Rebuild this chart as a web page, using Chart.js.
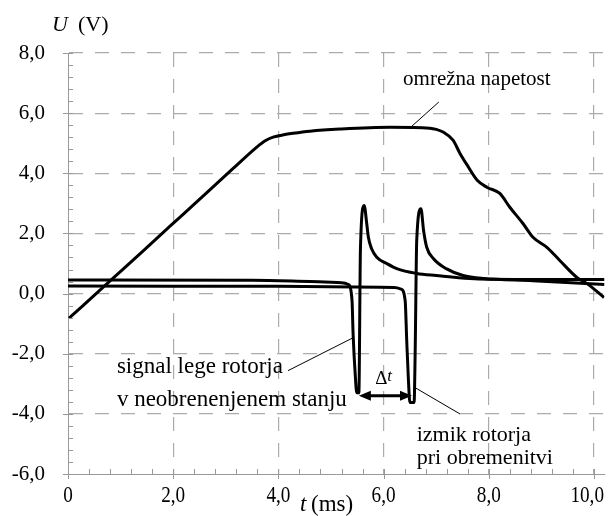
<!DOCTYPE html>
<html>
<head>
<meta charset="utf-8">
<script src="https://cdn.jsdelivr.net/npm/chart.js@4.4.1/dist/chart.umd.min.js"></script>
<style>
  html, body { margin: 0; padding: 0; background: #fff; }
  #wrap { width: 608px; height: 516px; }
</style>
</head>
<body>
<div id="wrap"><canvas id="chart" width="608" height="516"></canvas></div>
<script>
// mains voltage (omrežna napetost)
const mainsT = [0.02, 0.8, 1.43, 1.94, 2.38, 2.64, 3.14, 3.59, 3.75, 3.9, 4.1, 4.28, 4.6, 5.17, 6.12, 6.88, 7.0, 7.13, 7.32, 7.45, 7.59, 7.78, 7.97, 8.21, 8.4, 8.65, 8.84, 9.11, 9.35, 9.68, 9.87, 10.19];
const mainsU = [-0.82, 0.42, 1.42, 2.24, 2.94, 3.36, 4.16, 4.87, 5.08, 5.2, 5.28, 5.33, 5.4, 5.47, 5.53, 5.5, 5.46, 5.37, 5.1, 4.67, 4.27, 3.77, 3.53, 3.33, 2.87, 2.33, 1.87, 1.53, 1.1, 0.53, 0.33, -0.13];

// rotor position signal, no load
const rotorT = [0, 3.5, 4.6, 5.2, 5.33, 5.4, 5.42, 5.46, 5.49, 5.53, 5.56, 5.63, 5.68, 5.71, 5.77, 5.87, 6.06, 6.25, 6.63, 7.0, 7.64, 8.5, 10.2];
const rotorU = [0.45, 0.44, 0.4, 0.36, 0.3, -0.23, -1.33, -2.67, -3.3, -3.3, 1.5, 2.93, 2.32, 1.88, 1.5, 1.21, 1.0, 0.83, 0.67, 0.6, 0.5, 0.47, 0.47];

// rotor shift under load
const loadT = [0, 4, 6.2, 6.33, 6.41, 6.44, 6.47, 6.5, 6.58, 6.6, 6.63, 6.71, 6.76, 6.82, 6.95, 7.2, 7.51, 7.9, 8.84, 10.2];
const loadU = [0.25, 0.24, 0.2, 0.15, -0.23, -1.57, -2.79, -3.62, -3.62, -2.0, 1.77, 2.82, 2.1, 1.54, 1.16, 0.82, 0.6, 0.5, 0.43, 0.3];

const xTicks = [0, 2, 4, 6, 8, 10];
const xLabels = ['0', '2,0', '4,0', '6,0', '8,0', '10,0'];
const yTicks = [-6, -4, -2, 0, 2, 4, 6, 8];

const toPts = (xs, ys) => xs.map((x, i) => ({ x: x, y: ys[i] }));
const serif = '"Liberation Serif", "Times New Roman", serif';

// extra drawing: minor ticks, x labels, axis titles, labels with leader lines, Δt arrow
const decor = {
  id: 'decor',
  afterDraw(chart) {
    const ctx = chart.ctx;
    const xs = chart.scales.x, ys = chart.scales.y;
    const a = chart.chartArea;
    const X = v => xs.getPixelForValue(v);
    const Y = v => ys.getPixelForValue(v);

    ctx.save();
    // ticks
    ctx.strokeStyle = '#999';
    ctx.lineWidth = 1;
    ctx.beginPath();
    for (let v = -6; v <= 8.001; v += 0.4) {
      const p = Math.round(Y(v)) + 0.5;
      const major = Math.abs(v / 2 - Math.round(v / 2)) < 0.01;
      ctx.moveTo(a.left - (major ? 5 : 0), p);
      ctx.lineTo(a.left + 5, p);
    }
    for (let v = 0; v <= 10.001; v += 0.4) {
      const p = Math.round(X(v)) + 0.5;
      const major = Math.abs(v / 2 - Math.round(v / 2)) < 0.01;
      ctx.moveTo(p, a.bottom + (major ? 5 : 0));
      ctx.lineTo(p, a.bottom - 5);
    }
    ctx.stroke();

    ctx.fillStyle = '#000';
    ctx.textBaseline = 'alphabetic';
    ctx.textAlign = 'left';

    // x tick labels, slightly condensed like the original
    ctx.font = '24px ' + serif;
    xTicks.forEach((v, i) => {
      const w = ctx.measureText(xLabels[i]).width * 0.8;
      let cx = X(v);
      if (cx + w / 2 > 604) cx = 604 - w / 2;
      ctx.save();
      ctx.translate(cx - w / 2, a.bottom + 28);
      ctx.scale(0.8, 1);
      ctx.fillText(xLabels[i], 0, 0);
      ctx.restore();
    });

    // axis titles
    ctx.font = 'italic 22px ' + serif;
    ctx.fillText('U', a.left - 16, 31);
    ctx.font = '22px ' + serif;
    ctx.fillText('(V)', a.left + 10, 31);
    ctx.font = 'italic 23px ' + serif;
    ctx.fillText('t', 300, 511);
    ctx.font = '23px ' + serif;
    ctx.fillText('(ms)', 311, 511);

    // labels
    ctx.font = '21px ' + serif;
    ctx.fillText('omrežna napetost', X(6.37), Y(6.93));
    ctx.font = '23px ' + serif;
    const sigX = X(0.93), sigY = Y(-2.63);
    ctx.fillText('signal lege rotorja', sigX, sigY);
    const sigEnd = sigX + ctx.measureText('signal lege rotorja').width;
    ctx.fillText('v neobrenenjenem stanju', X(0.93), Y(-3.73));
    ctx.font = '22px ' + serif;
    ctx.fillText('izmik rotorja', X(6.63), Y(-4.9));
    ctx.fillText('pri obremenitvi', X(6.63), Y(-5.67));

    // leader lines
    ctx.strokeStyle = '#000';
    ctx.lineWidth = 1;
    ctx.beginPath();
    ctx.moveTo(X(7.05), Y(6.37)); ctx.lineTo(X(6.54), Y(5.57));
    ctx.moveTo(sigEnd + 5, sigY - 2); ctx.lineTo(X(5.42), Y(-1.47));
    ctx.moveTo(X(6.6), Y(-3.13)); ctx.lineTo(X(7.45), Y(-4.0));
    ctx.stroke();

    // Δt arrow
    const x1 = X(5.53), x2 = X(6.54), ya = Y(-3.4);
    ctx.lineWidth = 3;
    ctx.beginPath();
    ctx.moveTo(x1 + 8, ya); ctx.lineTo(x2 - 8, ya);
    ctx.stroke();
    ctx.beginPath();
    ctx.moveTo(x1, ya); ctx.lineTo(x1 + 12, ya - 5); ctx.lineTo(x1 + 12, ya + 5); ctx.closePath();
    ctx.moveTo(x2, ya); ctx.lineTo(x2 - 12, ya - 5); ctx.lineTo(x2 - 12, ya + 5); ctx.closePath();
    ctx.fill();
    ctx.font = '19px ' + serif;
    ctx.fillText('\u0394', X(5.84), Y(-3.0));
    ctx.font = 'italic 17px ' + serif;
    ctx.fillText('t', X(6.07), Y(-2.9));
    ctx.restore();
  }
};

const lineStyle = { borderColor: '#000', borderWidth: 3, pointRadius: 0, showLine: true, cubicInterpolationMode: 'monotone', fill: false };

new Chart(document.getElementById('chart'), {
  type: 'scatter',
  data: {
    datasets: [
      Object.assign({ label: 'omrežna napetost', data: toPts(mainsT, mainsU) }, lineStyle),
      Object.assign({ label: 'signal lege rotorja', data: toPts(rotorT, rotorU) }, lineStyle),
      Object.assign({ label: 'izmik rotorja', data: toPts(loadT, loadU) }, lineStyle)
    ]
  },
  options: {
    responsive: false,
    animation: false,
    layout: { padding: { top: 53, right: 3.5, left: 0, bottom: 0 } },
    plugins: { legend: { display: false }, tooltip: { enabled: false } },
    scales: {
      x: {
        type: 'linear',
        min: 0,
        max: 10.2,
        afterFit: s => { s.height = 42; s.paddingLeft = 0; s.paddingRight = 0; },
        afterBuildTicks: s => { s.ticks = xTicks.map(v => ({ value: v })); },
        grid: {
          drawTicks: false,
          color: c => (c.tick && c.tick.value === 0) ? 'rgba(0,0,0,0)' : '#ababab',
          lineWidth: 1.2
        },
        border: { color: '#999', width: 1, dash: [14, 12] },
        ticks: { display: false }
      },
      y: {
        min: -6,
        max: 8,
        afterFit: s => { s.width = 68; s.paddingTop = 0; s.paddingBottom = 0; },
        afterBuildTicks: s => { s.ticks = yTicks.map(v => ({ value: v })); },
        grid: {
          drawTicks: false,
          color: c => (c.tick && c.tick.value === -6) ? 'rgba(0,0,0,0)' : '#ababab',
          lineWidth: 1.2
        },
        border: { color: '#999', width: 1, dash: [14, 12] },
        ticks: {
          padding: 23,
          color: '#000',
          font: { family: serif, size: 21 },
          callback: v => v.toFixed(1).replace('.', ',')
        }
      }
    }
  },
  plugins: [decor]
});
</script>
</body>
</html>
